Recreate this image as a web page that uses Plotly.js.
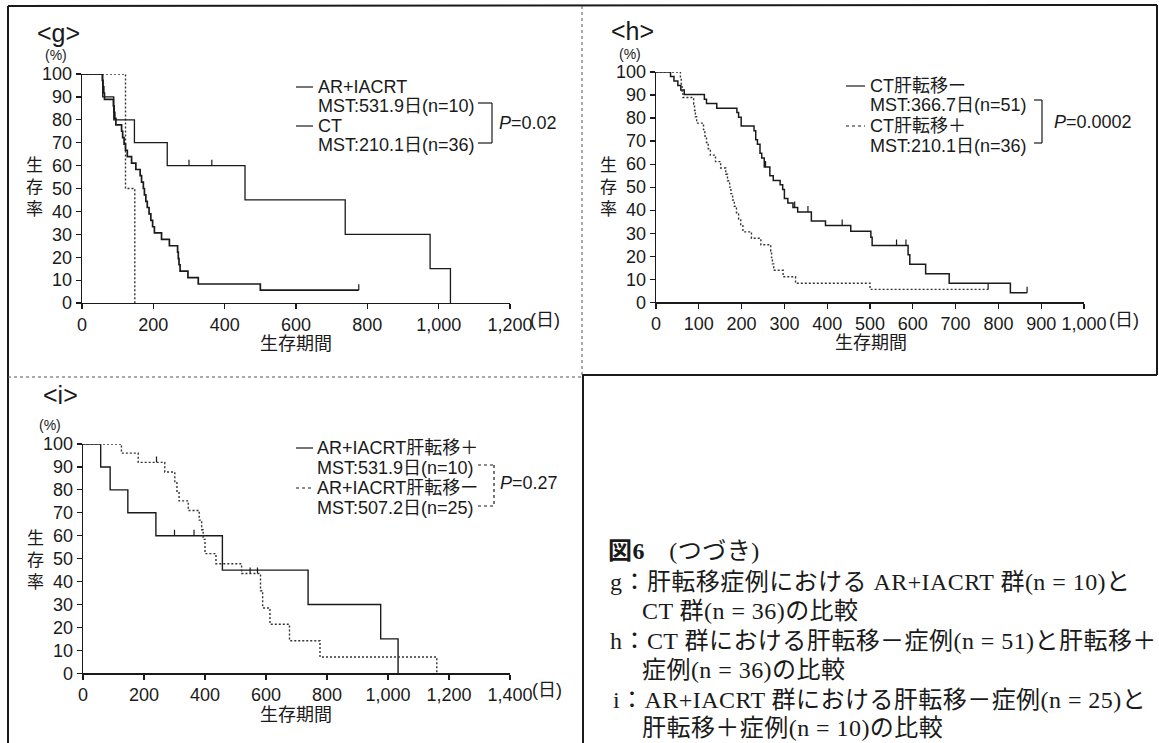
<!DOCTYPE html>
<html>
<head>
<meta charset="utf-8">
<script src="https://cdn.plot.ly/plotly-3.0.1.min.js"></script>
<style>
  html, body { margin: 0; padding: 0; background: #fff; }
  #chart { width: 1159px; height: 743px; }
  #chart text[style*="Liberation Serif"] { letter-spacing: 0.45px; }
</style>
</head>
<body>
<div id="chart"></div>
<script>
// ---------------- DATA ----------------
// AR+IACRT, liver metastasis + (n=10)  — panels g and i (solid)
const arPlusT = [0, 58, 89, 147, 239, 457, 738, 976, 1033];
const arPlusS = [100, 90, 80, 70, 60, 45, 30, 15, 0];
const arPlusCensT = [300, 364];
const arPlusCensS = [60, 60];

// CT, liver metastasis + (n=36) — panel g (CT) and panel h (dotted)
const ctPlusT = [0, 57, 59, 61, 63, 88, 90, 92, 95, 111, 114, 118, 122, 127, 139, 151, 163, 167, 172,
                 175, 179, 183, 188, 193, 198, 203, 223, 245, 268, 270, 272, 275, 297, 326, 500, 776];
const ctPlusS = [100, 97.2, 94.4, 91.7, 88.9, 86.1, 83.3, 80.6, 77.8, 75.0, 72.2, 69.4, 66.7, 63.9, 61.1, 58.3,
                 55.6, 52.8, 50.0, 47.2, 44.4, 41.7, 38.9, 36.1, 33.3, 30.6, 27.8, 25.0, 22.2, 19.4, 16.7, 13.9,
                 11.1, 8.3, 5.6, 5.6];
const ctPlusCensT = [776];
const ctPlusCensS = [5.6];

// extra dotted curve drawn in panel g
const gDotT = [0, 122, 148];
const gDotS = [100, 50, 0];

// CT, liver metastasis − (n=51) — panel h (solid)
const ctMinusT = [0, 34, 42, 51, 58, 66, 113, 118, 142, 189, 193, 199, 229, 233, 237, 243, 247, 253,
                  266, 274, 290, 296, 300, 308, 320, 331, 363, 396, 455, 502, 505, 589, 593, 630, 685, 828, 867];
const ctMinusS = [100, 98.0, 96.1, 94.1, 92.2, 90.2, 88.2, 86.3, 84.3, 82.4, 80.4, 76.5, 74.5, 70.6, 68.6, 64.7,
                  62.7, 58.8, 54.9, 52.9, 51.0, 49.0, 45.1, 43.1, 41.2, 39.2, 35.3, 33.3, 30.8, 28.2, 24.7, 20.6,
                  16.5, 12.4, 8.3, 4.1, 4.1];
const ctMinusCensT = [256, 324, 355, 435, 562, 584, 867];
const ctMinusCensS = [58.8, 41.2, 39.2, 33.3, 24.7, 24.7, 4.1];

// AR+IACRT, liver metastasis − (n=25) — panel i (dotted)
const arMinusT = [0, 126, 181, 268, 301, 308, 315, 345, 381, 389, 394, 400, 436, 520, 582, 589, 613, 677, 777, 1160];
const arMinusS = [100, 96, 92, 87.8, 83.6, 79.4, 75.2, 71.0, 66.8, 62.6, 58.4, 52.2, 47.8, 43.5, 36.0, 28.5, 21.4, 14.2, 7.1, 0];
const arMinusCensT = [241, 548, 572];
const arMinusCensS = [92, 43.5, 43.5];

// tick labels
const yTickVals = [0, 10, 20, 30, 40, 50, 60, 70, 80, 90, 100];
const gTickVals = [0, 200, 400, 600, 800, 1000, 1200];
const gTickText = ['0', '200', '400', '600', '800', '1,000', '1,200'];
const hTickVals = [0, 100, 200, 300, 400, 500, 600, 700, 800, 900, 1000];
const hTickText = ['0', '100', '200', '300', '400', '500', '600', '700', '800', '900', '1,000'];
const iTickVals = [0, 200, 400, 600, 800, 1000, 1200, 1400];
const iTickText = ['0', '200', '400', '600', '800', '1,000', '1,200', '1,400'];

// texts
const panelLabels = ['&lt;g&gt;', '&lt;h&gt;', '&lt;i&gt;'];
const gLegend = ['AR+IACRT', 'MST:531.9日(n=10)', 'CT', 'MST:210.1日(n=36)'];
const hLegend = ['CT肝転移ー', 'MST:366.7日(n=51)', 'CT肝転移＋', 'MST:210.1日(n=36)'];
const iLegend = ['AR+IACRT肝転移＋', 'MST:531.9日(n=10)', 'AR+IACRT肝転移ー', 'MST:507.2日(n=25)'];
const pValues = ['0.02', '0.0002', '0.27'];
const captionLines = [
  '<b>図6</b>　(つづき)',
  'g：肝転移症例における AR+IACRT 群(n = 10)と',
  'CT 群(n = 36)の比較',
  'h：CT 群における肝転移－症例(n = 51)と肝転移＋',
  '症例(n = 36)の比較',
  'i：AR+IACRT 群における肝転移－症例(n = 25)と',
  '肝転移＋症例(n = 10)の比較'
];

// ---------------- LAYOUT HELPERS ----------------
const W = 1159, H = 743;
const PX = x => x / W;
const PY = y => 1 - y / H;
const SANS = 'Liberation Sans, Arial, Noto Sans CJK JP, sans-serif';
const SERIF = 'Liberation Serif, Times New Roman, Noto Sans CJK JP, serif';
const INK = '#1a1a1a';

function stepTrace(t, s, xa, ya, dotted, width, name) {
  return {
    x: t, y: s, xaxis: xa, yaxis: ya, type: 'scatter', mode: 'lines', name: name,
    line: { shape: 'hv', color: dotted ? '#333' : INK, width: width, dash: dotted ? '2px,2px' : 'solid' },
    cliponaxis: false, showlegend: false, hoverinfo: 'x+y'
  };
}
function censTrace(t, s, xa, ya) {
  return {
    x: t, y: s, xaxis: xa, yaxis: ya, type: 'scatter', mode: 'markers',
    marker: { size: 1, color: 'rgba(0,0,0,0)' },
    error_y: { type: 'constant', symmetric: false, value: 2.6, valueminus: 0, width: 0, thickness: 1.2, color: INK },
    cliponaxis: false, showlegend: false, hoverinfo: 'skip'
  };
}

const traces = [
  stepTrace(gDotT, gDotS, 'x', 'y', true, 1.4, 'g dotted'),
  stepTrace(arPlusT, arPlusS, 'x', 'y', false, 1.3, 'AR+IACRT'),
  stepTrace(ctPlusT, ctPlusS, 'x', 'y', false, 1.7, 'CT'),
  censTrace(arPlusCensT, arPlusCensS, 'x', 'y'),
  censTrace(ctPlusCensT, ctPlusCensS, 'x', 'y'),

  stepTrace(ctMinusT, ctMinusS, 'x2', 'y2', false, 1.5, 'CT肝転移ー'),
  stepTrace(ctPlusT, ctPlusS, 'x2', 'y2', true, 1.4, 'CT肝転移＋'),
  censTrace(ctMinusCensT, ctMinusCensS, 'x2', 'y2'),
  censTrace(ctPlusCensT, ctPlusCensS, 'x2', 'y2'),

  stepTrace(arPlusT, arPlusS, 'x3', 'y3', false, 1.4, 'AR+IACRT肝転移＋'),
  stepTrace(arMinusT, arMinusS, 'x3', 'y3', true, 1.4, 'AR+IACRT肝転移ー'),
  censTrace(arPlusCensT, arPlusCensS, 'x3', 'y3'),
  censTrace(arMinusCensT, arMinusCensS, 'x3', 'y3')
];

function xAxis(x0, x1, yAnchor, range, vals, text) {
  return {
    domain: [PX(x0), PX(x1)], anchor: yAnchor, range: range, fixedrange: true,
    tickmode: 'array', tickvals: vals, ticktext: text,
    showline: true, linecolor: INK, linewidth: 1.3, ticks: 'outside', ticklen: 5, tickwidth: 1.2, tickcolor: INK,
    showgrid: false, zeroline: false, tickfont: { family: SANS, size: 18, color: INK }
  };
}
function yAxis(y0, y1, xAnchor) {
  return {
    domain: [PY(y0), PY(y1)], anchor: xAnchor, range: [0, 100], fixedrange: true,
    tickmode: 'array', tickvals: yTickVals,
    showline: true, linecolor: INK, linewidth: 1.3, ticks: 'outside', ticklen: 5, tickwidth: 1.2, tickcolor: INK,
    showgrid: false, zeroline: false, tickfont: { family: SANS, size: 18, color: INK }
  };
}

const ann = [];
function txt(x, y, text, size, opts) {
  ann.push(Object.assign({
    xref: 'paper', yref: 'paper', x: PX(x), y: PY(y), text: text, showarrow: false,
    xanchor: 'left', yanchor: 'middle', align: 'left', font: { family: SANS, size: size, color: INK }
  }, opts || {}));
}
const shapes = [];
function seg(x0, y0, x1, y1, w, dash, color) {
  shapes.push({ type: 'line', xref: 'paper', yref: 'paper', x0: PX(x0), y0: PY(y0), x1: PX(x1), y1: PY(y1),
                line: { color: color || INK, width: w, dash: dash || 'solid' } });
}
function bracket(xa, xb, ya, yb, dash) {
  seg(xa, ya, xb, ya, 1.2, dash); seg(xb, ya, xb, yb, 1.2, dash); seg(xa, yb, xb, yb, 1.2, dash);
}

// panel titles, units, axis titles
const panels = [
  { lx: 58, ly: 33, pct: [56, 55.5], vt: [34, 187], xt: [296, 344], unit: [528, 320] },
  { lx: 632, ly: 31, pct: [630, 53.5], vt: [608, 187], xt: [871, 343], unit: [1107, 320] },
  { lx: 60, ly: 395, pct: [50, 425], vt: [35, 560], xt: [296, 715], unit: [530, 690] }
];
panels.forEach((p, k) => {
  txt(p.lx, p.ly, panelLabels[k], 25, { xanchor: 'center', align: 'center' });
  txt(p.pct[0], p.pct[1], '(%)', 14, { xanchor: 'center', align: 'center' });
  txt(p.vt[0], p.vt[1], '生<br>存<br>率', 17, { xanchor: 'center', align: 'center' });
  txt(p.xt[0], p.xt[1], '生存期間', 18, { xanchor: 'center', align: 'center' });
  txt(p.unit[0], p.unit[1], '(日)', 18);
});

// legends
const legSpecs = [
  { lines: gLegend, x: 316, ys: [87, 106, 126, 145], sx: [296, 313], dash2: 'solid' },
  { lines: hLegend, x: 868, ys: [86, 105, 126, 146], sx: [846, 865], dash2: 'dot' },
  { lines: iLegend, x: 315, ys: [448, 468, 488, 508], sx: [296, 313], dash2: 'dot' }
];
legSpecs.forEach(l => {
  l.lines.forEach((t, k) => txt(l.x, l.ys[k], t, 18));
  seg(l.sx[0], l.ys[0], l.sx[1], l.ys[0], 1.2, 'solid');
  seg(l.sx[0], l.ys[2], l.sx[1], l.ys[2], 1.2, l.dash2);
});
bracket(478, 492, 103, 143, 'solid');
bracket(1034, 1042, 100, 143, 'solid');
bracket(478, 494, 465, 506, 'dot');
txt(497, 123, '<i>P</i>=' + pValues[0], 18);
txt(1052, 122, '<i>P</i>=' + pValues[1], 18);
txt(498, 483, '<i>P</i>=' + pValues[2], 18);

// caption
const capF = { family: SERIF, size: 24, color: INK };
const capPos = [[606, 551], [608, 582], [640, 611], [608, 641], [640, 670], [611, 700], [640, 728]];
captionLines.forEach((t, k) => txt(capPos[k][0], capPos[k][1], t, 24, { font: capF }));

// frame
seg(8, 6, 1157, 5, 2);
seg(8, 6, 8, 743, 2);
seg(1157, 5, 1157, 375, 2);
seg(582, 375, 1157, 375, 2);
seg(583, 375, 583, 743, 2);
seg(582, 6, 582, 375, 1, 'dot', '#555');
seg(8, 377, 582, 377, 1, 'dot', '#555');

const layout = {
  width: W, height: H, margin: { l: 0, r: 0, t: 0, b: 0 },
  paper_bgcolor: '#fff', plot_bgcolor: 'rgba(0,0,0,0)', showlegend: false,
  xaxis: xAxis(82, 510, 'y', [0, 1200], gTickVals, gTickText),
  yaxis: yAxis(303, 74, 'x'),
  xaxis2: xAxis(656, 1084, 'y2', [0, 1000], hTickVals, hTickText),
  yaxis2: yAxis(302.3, 72, 'x2'),
  xaxis3: xAxis(83, 510, 'y3', [0, 1400], iTickVals, iTickText),
  yaxis3: yAxis(673.3, 444, 'x3'),
  annotations: ann, shapes: shapes
};

Plotly.newPlot('chart', traces, layout, { staticPlot: true, displayModeBar: false });
</script>
</body>
</html>
